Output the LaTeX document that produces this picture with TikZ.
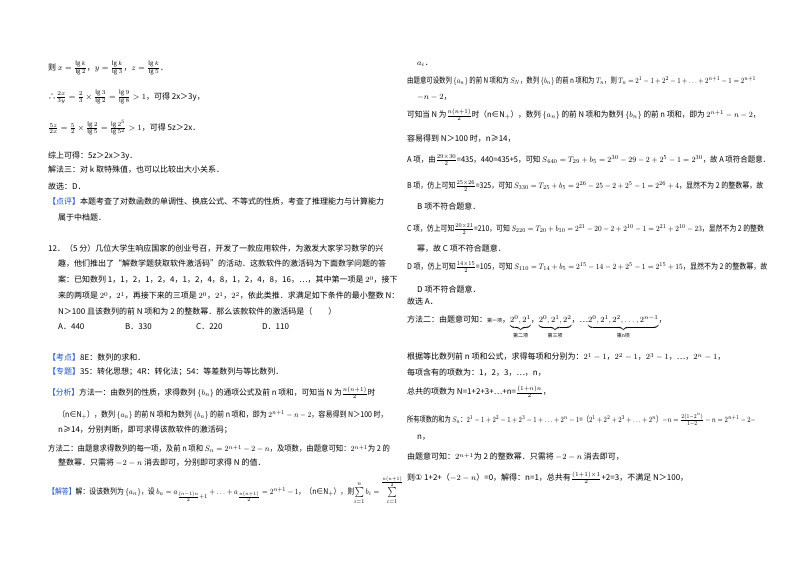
\documentclass[tikz,border=0pt]{standalone}
\usepackage{fontspec}
\setmainfont{Noto Sans CJK SC}
\newfontfamily\djv{DejaVu Sans}
\definecolor{lab}{RGB}{30,80,200}
\newcommand{\Ln}[4]{\node[txt] (#1) at (#2pt,-#3pt) {#4};}
\newcommand{\Ls}[5]{\node[txt] (#1) at (#2pt,-#3pt) {\scalebox{#4}[1]{#5}};}
\newcommand{\bk}[1]{\textcolor{lab}{【#1】}}
\begin{document}
\begin{tikzpicture}[txt/.style={anchor=west,inner sep=0pt,font=\fontsize{8}{9}\selectfont}]
\useasboundingbox (0,0) rectangle (800pt,-565pt);
\fill[white] (0,0) rectangle (800pt,-565pt);
% left column
\Ln{l1}{48}{68}{则 $x=\frac{\lg k}{\lg 2}$，$y=\frac{\lg k}{\lg 3}$，$z=\frac{\lg k}{\lg 5}$．}
\Ln{l2}{48}{97}{∴$\frac{2x}{3y}=\frac{2}{3}\times\frac{\lg 3}{\lg 2}=\frac{\lg 9}{\lg 8}>1$，可得 2x＞3y，}
\Ln{l3}{48}{128}{$\frac{5z}{2x}=\frac{5}{2}\times\frac{\lg 2}{\lg 5}=\frac{\lg 2^5}{\lg 5^2}>1$，可得 5z＞2x．}
\Ln{l4}{48}{156}{综上可得：5z＞2x＞3y．}
\Ln{l5}{48}{170}{解法三：对 k 取特殊值，也可以比较出大小关系．}
\Ln{l6}{48}{186}{故选：D．}
\Ln{l7}{48}{202}{\bk{点评}本题考查了对数函数的单调性、换底公式、不等式的性质，考查了推理能力与计算能力}
\Ln{l8}{58}{217}{属于中档题．}
\Ln{l9}{48}{248}{12．（5 分）几位大学生响应国家的创业号召，开发了一款应用软件，为激发大家学习数学的兴}
\Ln{l10}{58}{264}{趣，他们推出了“解数学题获取软件激活码”的活动．这款软件的激活码为下面数学问题的答}
\Ln{l11}{58}{280}{案：已知数列 1，1，2，1，2，4，1，2，4，8，1，2，4，8，16，…，其中第一项是 $2^0$，接下}
\Ln{l12}{58}{296}{来的两项是 $2^0$，$2^1$，再接下来的三项是 $2^0$，$2^1$，$2^2$，依此类推．求满足如下条件的最小整数 N：}
\Ln{l13}{58}{311}{N＞100 且该数列的前 N 项和为 2 的整数幂．那么该款软件的激活码是（　　）}
\Ln{oa}{58}{327}{A．440}
\Ln{ob}{125}{327}{B．330}
\Ln{oc}{196}{327}{C．220}
\Ln{od}{262}{327}{D．110}
\Ln{l14}{48}{357}{\bk{考点}8E：数列的求和．}
\Ln{l15}{48}{372}{\bk{专题}35：转化思想；4R：转化法；54：等差数列与等比数列．}
\Ls{l16}{48}{393}{0.97}{\bk{分析}方法一：由数列的性质，求得数列 $\{b_n\}$ 的通项公式及前 n 项和，可知当 N 为$\frac{n(n+1)}{2}$时}
\Ls{l17}{58}{415}{0.88}{（n∈N$_+$），数列 $\{a_n\}$ 的前 N 项和为数列 $\{b_n\}$ 的前 n 项和，即为 $2^{n+1}-n-2$，容易得到 N＞100 时，}
\Ln{l18}{58}{430}{n≥14，分别判断，即可求得该款软件的激活码；}
\Ls{l19}{48}{449}{0.92}{方法二：由题意求得数列的每一项，及前 n 项和 $S_n=2^{n+1}-2-n$，及项数，由题意可知：$2^{n+1}$为 2 的}
\Ln{l20}{58}{463}{整数幂．只需将 $-2-n$ 消去即可，分别即可求得 N 的值．}
\Ls{l21}{48}{490}{0.86}{\bk{解答}解：设该数列为 $\{a_n\}$，设 $b_n=a_{\frac{(n-1)n}{2}+1}+\dots+a_{\frac{n(n+1)}{2}}=2^{n+1}-1$，（n∈N$_+$），则$\sum\limits_{i=1}^{n}b_i=\sum\limits_{i=1}^{\frac{n(n+1)}{2}}$}
% right column
\Ln{r1}{417}{64}{$a_i$．}
\Ls{r2}{407}{81}{0.8}{由题意可设数列 $\{a_n\}$ 的前 N 项和为 $S_N$，数列 $\{b_n\}$ 的前 n 项和为 $T_n$，则 $T_n=2^1-1+2^2-1+\dots+2^{n+1}-1=2^{n+1}$}
\Ln{r3}{417}{97}{$-n-2$，}
\Ls{r4}{407}{115}{0.95}{可知当 N 为$\frac{n(n+1)}{2}$时（n∈N$_+$），数列 $\{a_n\}$ 的前 N 项和为数列 $\{b_n\}$ 的前 n 项和，即为 $2^{n+1}-n-2$，}
\Ln{r5}{407}{139}{容易得到 N＞100 时，n≥14，}
\Ls{r6}{407}{160}{0.93}{A 项，由$\frac{29\times 30}{2}$=435，440=435+5，可知 $S_{440}=T_{29}+b_5=2^{30}-29-2+2^5-1=2^{30}$，故 A 项符合题意．}
\Ls{r7}{407}{186}{0.88}{B 项，仿上可知$\frac{25\times 26}{2}$=325，可知 $S_{330}=T_{25}+b_5=2^{26}-25-2+2^5-1=2^{26}+4$，显然不为 2 的整数幂，故}
\Ln{r8}{417}{206}{B 项不符合题意．}
\Ls{r9}{407}{229}{0.86}{C 项，仿上可知$\frac{20\times 21}{2}$=210，可知 $S_{220}=T_{20}+b_{10}=2^{21}-20-2+2^{10}-1=2^{21}+2^{10}-23$，显然不为 2 的整数}
\Ln{r10}{417}{249}{幂，故 C 项不符合题意．}
\Ls{r11}{407}{267}{0.88}{D 项，仿上可知$\frac{14\times 15}{2}$=105，可知 $S_{110}=T_{14}+b_5=2^{15}-14-2+2^5-1=2^{15}+15$，显然不为 2 的整数幂，故}
\Ln{r12}{417}{289}{D 项不符合题意．}
\Ln{r13}{407}{301}{故选 A．}
\Ln{r14}{407}{327}{方法二：由题意可知：{\tiny 第一项}，$\underbrace{2^0,2^1}_{\mbox{\tiny 第二项}}$，$\underbrace{2^0,2^1,2^2}_{\mbox{\tiny 第三项}}$，…$\underbrace{2^0,2^1,2^2,\dots,2^{n-1}}_{\mbox{\tiny 第n项}}$，}
\Ln{r15}{407}{357}{根据等比数列前 n 项和公式，求得每项和分别为：$2^1-1$，$2^2-1$，$2^3-1$，…，$2^n-1$，}
\Ln{r16}{407}{373}{每项含有的项数为：1，2，3，…，n，}
\Ln{r17}{407}{392}{总共的项数为 N=1+2+3+…+n=$\frac{(1+n)n}{2}$，}
\Ls{r18}{407}{420}{0.78}{所有项数的和为 $S_n$：$2^1-1+2^2-1+2^3-1+\dots+2^n-1$=（$2^1+2^2+2^3+\dots+2^n$）$-n=\frac{2(1-2^n)}{1-2}-n=2^{n+1}-2-$}
\Ln{r19}{417}{438}{n，}
\Ln{r20}{407}{457}{由题意可知：$2^{n+1}$为 2 的整数幂．只需将 $-2-n$ 消去即可，}
\Ln{r21}{407}{478}{则{\djv ①} 1+2+（$-2-n$）=0，解得：n=1，总共有$\frac{(1+1)\times 1}{2}$+2=3，不满足 N＞100，}
\end{tikzpicture}
\end{document}
